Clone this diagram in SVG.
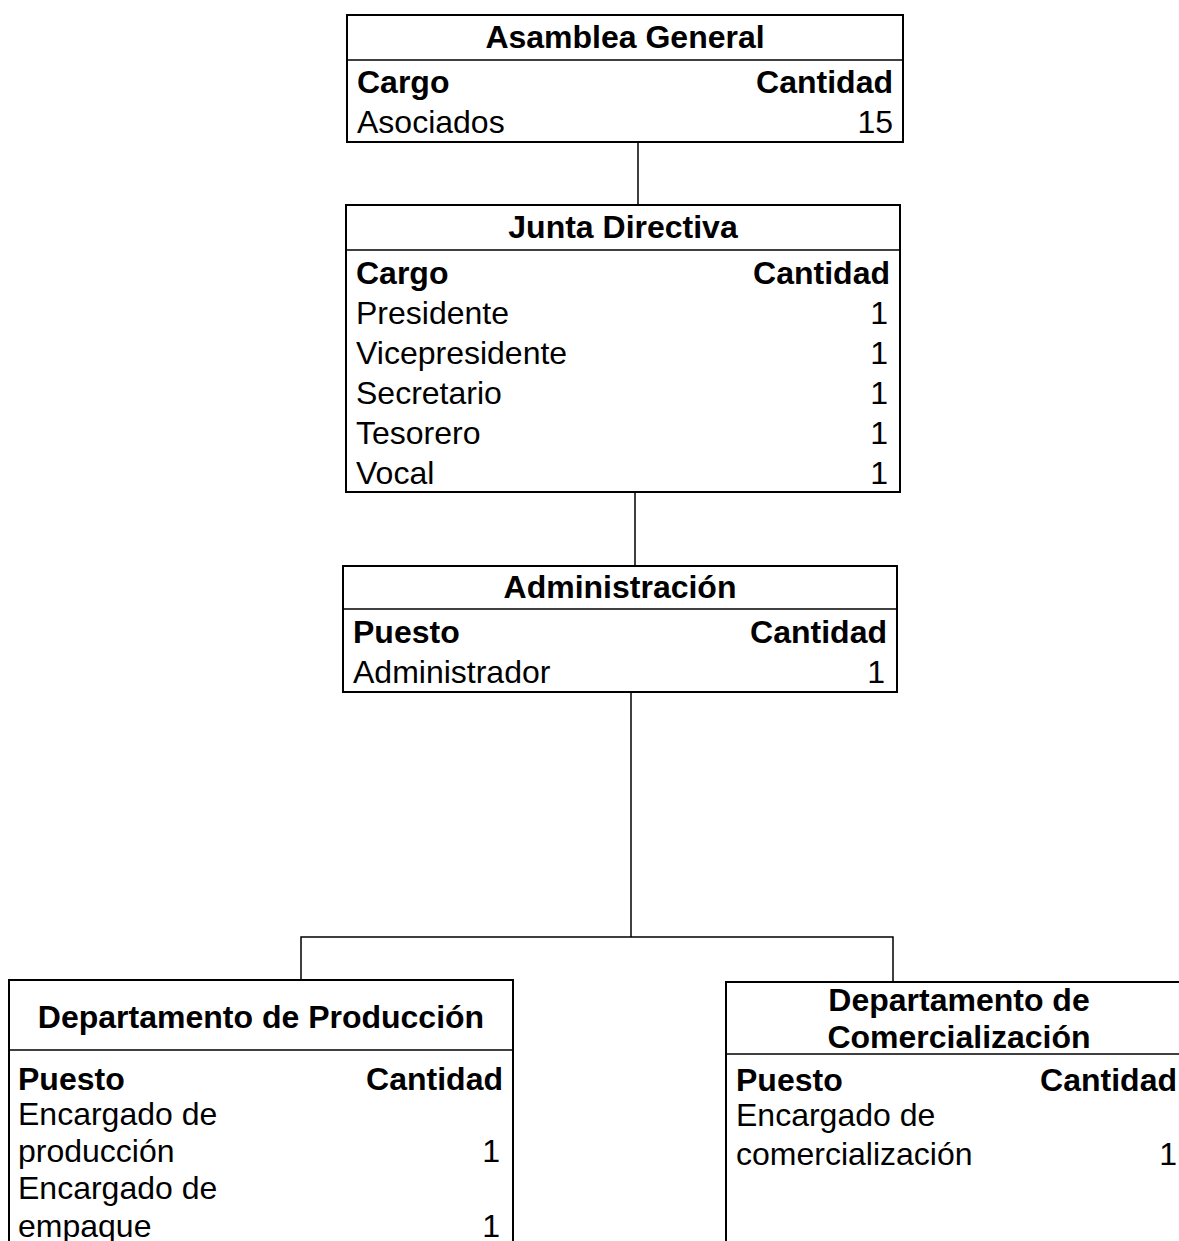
<svg xmlns="http://www.w3.org/2000/svg" width="1179" height="1241" viewBox="0 0 1179 1241">
<style>
.box{fill:#fff;stroke:#000;stroke-width:2}
.ln{stroke:#000;stroke-width:1.5;fill:none}
.t{font-family:"Liberation Sans",Arial,sans-serif;font-size:32px;font-weight:bold;text-anchor:middle;fill:#000}
.h{font-family:"Liberation Sans",Arial,sans-serif;font-size:32px;font-weight:bold;fill:#000}
.r{font-family:"Liberation Sans",Arial,sans-serif;font-size:32px;fill:#000}
.e{text-anchor:end}
</style>
<rect width="1179" height="1241" fill="#fff"/>
<g id="connectors">
<line class="ln" x1="638" y1="142" x2="638" y2="205"/>
<line class="ln" x1="635" y1="492" x2="635" y2="566"/>
<polyline class="ln" points="631,692 631,937"/>
<polyline class="ln" points="301,980 301,937 893,937 893,982"/>
</g>
<g id="asamblea">
<rect class="box" x="347" y="15" width="556" height="127"/>
<line class="ln" x1="347" y1="60" x2="903" y2="60"/>
<text class="t" x="625" y="48">Asamblea General</text>
<text class="h" x="357" y="93">Cargo</text>
<text class="h e" x="893" y="93">Cantidad</text>
<text class="r" x="357" y="133">Asociados</text>
<text class="r e" x="893" y="133">15</text>
</g>
<g id="junta">
<rect class="box" x="346" y="205" width="554" height="287"/>
<line class="ln" x1="346" y1="250" x2="900" y2="250"/>
<text class="t" x="623" y="238">Junta Directiva</text>
<text class="h" x="356" y="284">Cargo</text>
<text class="h e" x="890" y="284">Cantidad</text>
<text class="r" x="356" y="324">Presidente</text><text class="r e" x="888" y="324">1</text>
<text class="r" x="356" y="364">Vicepresidente</text><text class="r e" x="888" y="364">1</text>
<text class="r" x="356" y="404">Secretario</text><text class="r e" x="888" y="404">1</text>
<text class="r" x="356" y="444">Tesorero</text><text class="r e" x="888" y="444">1</text>
<text class="r" x="356" y="484">Vocal</text><text class="r e" x="888" y="484">1</text>
</g>
<g id="administracion">
<rect class="box" x="343" y="566" width="554" height="126"/>
<line class="ln" x1="343" y1="609" x2="897" y2="609"/>
<text class="t" x="620" y="598">Administración</text>
<text class="h" x="353" y="643">Puesto</text>
<text class="h e" x="887" y="643">Cantidad</text>
<text class="r" x="353" y="683">Administrador</text>
<text class="r e" x="885" y="683">1</text>
</g>
<g id="produccion">
<rect class="box" x="9" y="980" width="504" height="280"/>
<line class="ln" x1="9" y1="1050" x2="513" y2="1050"/>
<text class="t" x="261" y="1028">Departamento de Producción</text>
<text class="h" x="18" y="1090">Puesto</text>
<text class="h e" x="503" y="1090">Cantidad</text>
<text class="r" x="18" y="1125">Encargado de</text>
<text class="r" x="18" y="1162">producción</text><text class="r e" x="500" y="1162">1</text>
<text class="r" x="18" y="1199">Encargado de</text>
<text class="r" x="18" y="1237">empaque</text><text class="r e" x="500" y="1237">1</text>
</g>
<g id="comercializacion">
<rect class="box" x="726" y="982" width="480" height="280"/>
<line class="ln" x1="726" y1="1054" x2="1179" y2="1054"/>
<text class="t" x="959" y="1011">Departamento de</text>
<text class="t" x="959" y="1048">Comercialización</text>
<text class="h" x="736" y="1091">Puesto</text>
<text class="h e" x="1177" y="1091">Cantidad</text>
<text class="r" x="736" y="1126">Encargado de</text>
<text class="r" x="736" y="1165">comercialización</text><text class="r e" x="1177" y="1165">1</text>
</g>
</svg>
